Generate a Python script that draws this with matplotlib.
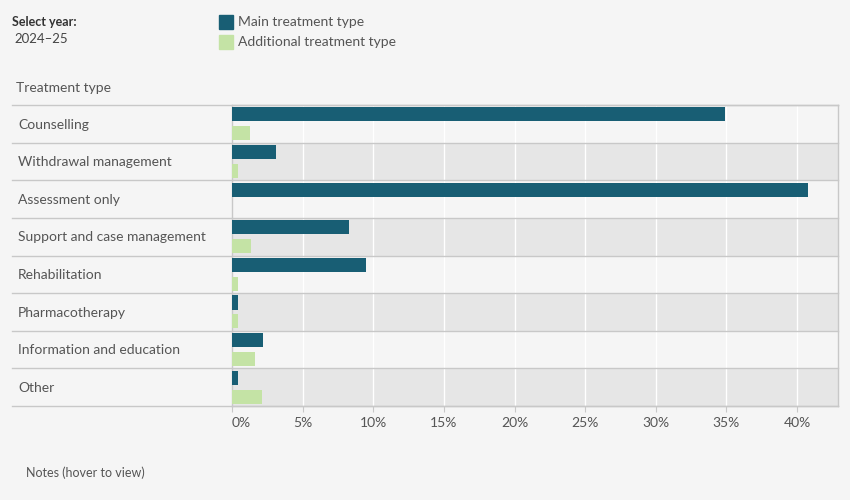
import matplotlib
matplotlib.use("Agg")
import matplotlib.pyplot as plt
import matplotlib.transforms as mtransforms
from matplotlib.patches import Rectangle
import numpy as np

# treatment types and shares (%), 2024-25
categories = ["Counselling", "Withdrawal management", "Assessment only",
              "Support and case management", "Rehabilitation", "Pharmacotherapy",
              "Information and education", "Other"]
main_pct = [34.9, 3.1, 40.8, 8.3, 9.5, 0.4, 2.2, 0.45]
additional_pct = [1.25, 0.4, 0.0, 1.35, 0.45, 0.4, 1.65, 2.1]
tick_vals = [0, 5, 10, 15, 20, 25, 30, 35, 40]
tick_labels = ["0%", "5%", "10%", "15%", "20%", "25%", "30%", "35%", "40%"]

main_col = "#185e74"
add_col = "#c4e3a5"
bg = "#f5f5f5"
band = "#e6e6e6"
sep = "#c8c8c8"
txt = "#555555"

plt.rcParams['font.family'] = ['Lato', 'DejaVu Sans']

W, H = 850, 500
fig = plt.figure(figsize=(8.5, 5), dpi=100, facecolor=bg)
ax = fig.add_axes([232 / W, 94 / H, (838 - 232) / W, (406 - 105) / H])
ax.set_facecolor(bg)

n = len(categories)
ax.set_xlim(0, 42.9)
ax.set_ylim(n, 0)

# alternating row bands
for i in range(n):
    if i % 2 == 1:
        ax.axhspan(i, i + 1, color=band, zorder=0, lw=0)

# vertical gridlines
for v in tick_vals[1:]:
    ax.axvline(v, color="white", lw=1, zorder=1)

y = np.arange(n)
bh = 0.375
ax.barh(y + 0.5 - 0.25, main_pct, height=bh, color=main_col, zorder=3)
ax.barh(y + 0.5 + 0.25, additional_pct, height=bh, color=add_col, zorder=3)

for s in ["top", "bottom", "left", "right"]:
    ax.spines[s].set_color(sep)
    ax.spines[s].set_linewidth(1)

ax.set_yticks([])
ax.set_xticks(tick_vals)
ax.set_xticklabels(tick_labels)
ax.tick_params(axis="x", length=4, color=sep, labelcolor=txt, labelsize=10, pad=4)
ax.get_xticklabels()[0].set_horizontalalignment("left")

# row separators across label column and plot, plus labels
tr = mtransforms.blended_transform_factory(fig.transFigure, ax.transData)
for i in range(n + 1):
    ax.plot([12 / W, 838 / W], [i, i], transform=tr, color=sep, lw=1,
            clip_on=False, zorder=2)
for i, c in enumerate(categories):
    ax.text(18 / W, i + 0.52, c, transform=tr, ha="left", va="center",
            fontsize=10, color=txt)

# header texts
fig.text(12 / W, 1 - 22 / H, "Select year:", fontsize=9, fontweight="bold",
         color="#333333", va="center")
fig.text(14 / W, 1 - 39 / H, "2024\u201325", fontsize=9.5, color="#444444", va="center")
fig.text(16 / W, 1 - 88 / H, "Treatment type", fontsize=10, color=txt, va="center")

# legend
fig.add_artist(Rectangle((219 / W, 1 - 29 / H), 14 / W, 14 / H,
                         transform=fig.transFigure, color=main_col))
fig.add_artist(Rectangle((219 / W, 1 - 49 / H), 14 / W, 14 / H,
                         transform=fig.transFigure, color=add_col))
fig.text(238 / W, 1 - 22 / H, "Main treatment type", fontsize=10, color=txt, va="center")
fig.text(238 / W, 1 - 42 / H, "Additional treatment type", fontsize=10, color=txt, va="center")

fig.text(26 / W, 1 - 473 / H, "Notes (hover to view)", fontsize=9, color=txt, va="center")

fig.savefig("out.png", dpi=100, facecolor=bg)
